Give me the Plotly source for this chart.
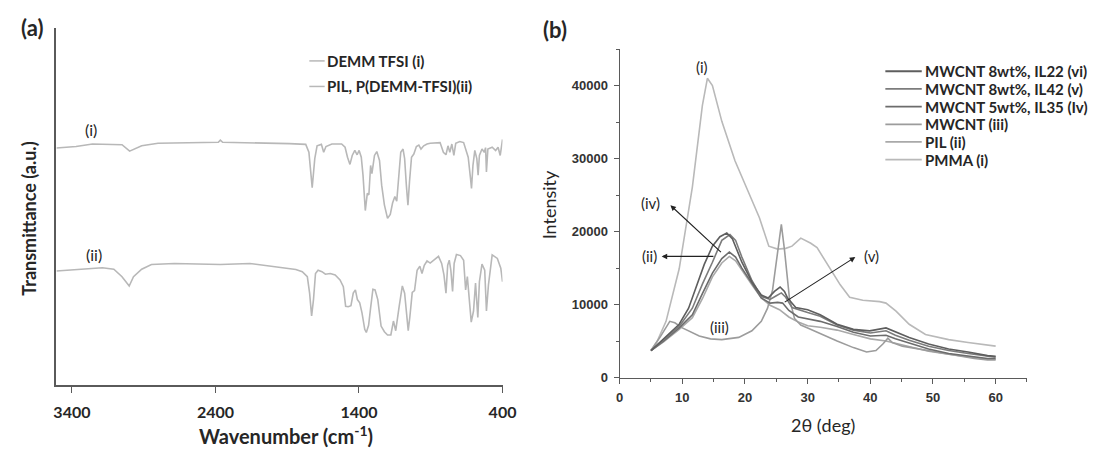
import plotly.graph_objects as go

# ---------------- Panel (a): FTIR ----------------
wn_demm = [3508, 3371, 3257, 3051, 2998, 2914, 2800, 2380, 2366, 2350, 1886, 1817, 1771, 1749,
           1726, 1708, 1692, 1662, 1646, 1630, 1589, 1521, 1497, 1480, 1463, 1447, 1429, 1413,
           1399, 1384, 1372, 1356, 1342, 1331, 1319, 1310, 1301, 1292, 1276, 1257, 1242, 1223,
           1201, 1182, 1166, 1150, 1137, 1125, 1109, 1093, 1082, 1070, 1059, 1048, 1034, 1018,
           1000, 983, 968, 949, 926, 904, 870, 835, 812, 794, 780, 767, 753, 739, 726, 698, 671,
           652, 639, 623, 616, 606, 593, 579, 570, 561, 543, 527, 518, 512, 502, 472, 448, 431,
           416, 400]
t_demm = [66.4, 66.8, 67.5, 67.3, 65.5, 67.0, 67.7, 68.0, 68.6, 68.0, 67.6, 67.6, 67.4, 65.2,
          55.3, 63.4, 67.0, 67.4, 65.2, 66.8, 67.5, 67.5, 66.6, 63.8, 61.8, 64.3, 65.7, 64.5,
          65.7, 63.8, 58.8, 48.9, 53.7, 53.3, 61.5, 59.2, 62.0, 64.3, 65.4, 62.9, 56.0, 50.5,
          46.7, 47.8, 51.0, 52.8, 51.5, 57.9, 65.2, 66.1, 63.4, 56.0, 50.4, 57.0, 63.8, 64.7,
          66.8, 67.2, 66.1, 67.0, 67.5, 67.7, 67.9, 67.9, 65.2, 64.5, 67.0, 65.2, 67.5, 64.3,
          67.7, 68.2, 67.9, 65.2, 63.8, 57.9, 55.1, 61.5, 65.7, 63.4, 58.8, 64.3, 66.1, 65.2,
          66.5, 59.7, 66.1, 66.6, 65.7, 66.6, 64.3, 68.8]

wn_pil = [3508, 3371, 3188, 3108, 3051, 3001, 2971, 2914, 2846, 2686, 2366, 2160, 1886, 1840,
          1795, 1760, 1744, 1730, 1717, 1703, 1685, 1658, 1634, 1600, 1566, 1532, 1509, 1493,
          1475, 1456, 1440, 1425, 1411, 1395, 1379, 1360, 1349, 1333, 1319, 1303, 1288, 1269,
          1246, 1223, 1201, 1178, 1160, 1144, 1120, 1098, 1082, 1068, 1057, 1045, 1029, 1013,
          995, 976, 961, 945, 926, 904, 881, 846, 824, 808, 794, 782, 771, 760, 748, 737, 721,
          693, 671, 657, 645, 634, 618, 602, 588, 572, 561, 543, 524, 512, 498, 472, 436, 412,
          400]
t_pil = [32.0, 32.4, 32.9, 32.5, 30.4, 27.8, 30.4, 32.5, 33.8, 34.1, 33.8, 34.1, 32.7, 32.4,
         31.8, 30.4, 25.8, 19.4, 24.0, 31.3, 32.2, 31.8, 31.1, 31.3, 30.9, 29.5, 27.6, 22.1,
         22.0, 22.3, 25.8, 26.7, 24.0, 23.1, 20.3, 15.7, 14.8, 16.8, 21.7, 26.9, 26.7, 24.0,
         16.6, 15.0, 14.1, 14.1, 18.0, 15.3, 22.1, 27.8, 25.8, 19.4, 15.3, 19.4, 26.0, 26.5,
         32.2, 33.3, 31.3, 33.6, 34.8, 34.2, 35.0, 36.1, 34.1, 30.9, 25.8, 33.6, 35.0, 32.2,
         26.3, 34.1, 36.6, 36.3, 35.0, 26.7, 30.4, 24.0, 17.7, 20.8, 28.6, 19.0, 29.0, 33.9,
         32.2, 20.8, 28.1, 36.5, 35.5, 32.8, 29.0]

ftir_ticks = [3400, 2400, 1400, 400]
ftir_names = ["DEMM TFSI (i)", "PIL, P(DEMM-TFSI)(ii)"]

# ---------------- Panel (b): XRD ----------------
tt_vi = [5.0, 7.0, 9.5, 11.0, 12.5, 13.5, 14.8, 16.0, 17.1, 18.0, 19.5, 21.1, 22.6, 23.7, 24.7,
         25.6, 26.3, 26.8, 28.1, 30.0, 32.0, 34.7, 37.3, 39.9, 42.5, 44.1, 46.2, 49.3, 52.5,
         55.6, 58.7, 60.0]
i_vi = [3700, 5300, 7300, 9500, 13000, 15500, 18000, 19300, 19800, 19000, 15800, 13100, 11300,
        10900, 11800, 12400, 11800, 10900, 9600, 9300, 8600, 7300, 6600, 6400, 6800, 6200, 5500,
        4600, 3900, 3500, 3000, 2900]

tt_v = [5.0, 7.0, 9.5, 11.6, 13.2, 14.8, 16.3, 17.6, 18.5, 19.5, 21.1, 22.6, 24.0, 25.0, 25.8,
        26.5, 27.5, 30.0, 32.0, 34.7, 37.3, 40.0, 42.5, 44.0, 46.2, 49.3, 52.5, 55.6, 58.7, 60.0]
i_v = [3700, 5200, 7000, 9500, 12800, 15800, 18800, 19600, 18800, 16500, 13300, 11100, 10700,
       11200, 11600, 11000, 9600, 8900, 8400, 7200, 6500, 6100, 6400, 5800, 5100, 4300, 3700,
       3300, 2900, 2800]

tt_iv = [5.0, 7.0, 9.5, 11.6, 13.2, 14.8, 16.3, 17.5, 18.5, 19.5, 21.1, 22.6, 24.0, 25.2, 26.0,
         27.0, 28.5, 30.0, 32.0, 34.7, 37.3, 40.0, 42.5, 44.0, 46.2, 49.3, 52.5, 55.6, 58.7, 60.0]
i_iv = [3700, 5000, 6800, 8600, 11500, 14300, 16300, 17200, 16500, 15000, 12900, 10900, 10200,
        10300, 10200, 9200, 8300, 8000, 7700, 7000, 6200, 5700, 5800, 5300, 4700, 3900, 3300,
        2900, 2600, 2600]

tt_iii = [5.0, 6.5, 8.0, 8.8, 10.0, 12.7, 14.5, 16.3, 19.0, 21.1, 22.6, 23.6, 24.4, 25.2, 25.8,
          26.3, 27.1, 27.9, 28.9, 30.0, 32.0, 34.7, 37.3, 39.4, 40.9, 42.0, 42.8, 43.5, 45.1,
          47.7, 50.4, 53.5, 56.6, 58.7, 60.0]
i_iii = [3700, 5600, 7700, 7500, 6800, 5700, 5300, 5200, 5500, 6400, 7700, 9500, 12000, 17500,
         21000, 17500, 10800, 8100, 7200, 6800, 6000, 5000, 4100, 3500, 3700, 4600, 5400, 4800,
         4300, 3900, 3500, 3000, 2600, 2400, 2400]

tt_ii = [5.0, 7.0, 9.5, 11.6, 13.2, 14.8, 16.3, 17.5, 18.5, 19.5, 21.1, 22.6, 24.0, 25.5, 27.0,
         28.5, 30.0, 32.0, 34.7, 37.3, 40.0, 42.5, 44.0, 46.2, 49.3, 52.5, 55.6, 58.7, 60.0]
i_ii = [3700, 4900, 6600, 8200, 10800, 13800, 15700, 16600, 16000, 14700, 12700, 10900, 9900,
        9300, 8300, 7600, 7100, 6900, 6500, 5900, 5300, 5000, 4700, 4200, 3600, 3200, 2800, 2500,
        2500]

tt_i = [5.0, 6.0, 7.4, 9.5, 11.6, 13.2, 14.0, 14.8, 16.3, 18.4, 20.3, 22.3, 23.8, 25.2, 26.5,
        27.5, 28.9, 30.5, 31.5, 33.2, 35.2, 36.7, 38.8, 41.5, 42.5, 44.1, 46.2, 48.8, 52.5, 55.6,
        58.7, 60.0]
i_i = [3700, 5000, 7700, 14900, 26100, 37300, 41000, 40000, 35100, 29700, 25900, 21900, 18000,
       17600, 17700, 18000, 19100, 18400, 17800, 15500, 12700, 11000, 10600, 10400, 10200, 9100,
       7300, 5900, 5200, 4800, 4400, 4300]

xrd_names = ["MWCNT 8wt%, IL22 (vi)", "MWCNT 8wt%, IL42 (v)", "MWCNT 5wt%, IL35 (Iv)",
             "MWCNT (iii)", "PIL (ii)", "PMMA (i)"]
xrd_x = [tt_vi, tt_v, tt_iv, tt_iii, tt_ii, tt_i]
xrd_y = [i_vi, i_v, i_iv, i_iii, i_ii, i_i]
xrd_colors = ["#5e5e5e", "#7c7c7c", "#6c6c6c", "#9c9c9c", "#a9a9a9", "#b9b9b9"]

xrd_xticks = [0, 10, 20, 30, 40, 50, 60]
xrd_yticks = [0, 10000, 20000, 30000, 40000]

# ---------------- Figure ----------------
W, H = 1101, 455
def px(x):
    return x / W
def py(y):
    return 1 - y / H

FONT = "Lato, 'Open Sans', sans-serif"
TXT = "#262626"
AX = "#5a5a5a"
ftir_color = "#b8b8b8"

fig = go.Figure()
for wn, tv, nm in [(wn_demm, t_demm, ftir_names[0]), (wn_pil, t_pil, ftir_names[1])]:
    fig.add_trace(go.Scatter(x=wn, y=tv, mode="lines", name=nm,
                             line=dict(color=ftir_color, width=1.6), xaxis="x", yaxis="y",
                             showlegend=False))

for k in [5, 4, 3, 2, 1, 0]:
    fig.add_trace(go.Scatter(x=xrd_x[k], y=xrd_y[k], mode="lines", name=xrd_names[k],
                             line=dict(color=xrd_colors[k], width=1.6),
                             xaxis="x2", yaxis="y2", showlegend=False))

TICKFONT_B = dict(family="Liberation Sans, Arial, sans-serif", size=13, color="#333333",
                  weight="bold")

fig.update_layout(
    width=W, height=H,
    margin=dict(l=0, r=0, t=0, b=0),
    paper_bgcolor="white", plot_bgcolor="white",
    font=dict(family=FONT, color=TXT),
    showlegend=False,
    xaxis=dict(domain=[px(53.3), px(506.8)], range=[3508, 400], anchor="y",
               showline=True, linecolor=AX, linewidth=1.6,
               ticks="outside", ticklen=6, tickwidth=1.2, tickcolor=AX,
               tickvals=ftir_ticks, ticktext=[str(v) for v in ftir_ticks],
               tickfont=dict(family=FONT, size=16, color=TXT, weight="bold"),
               ticklabelstandoff=6, showgrid=False, zeroline=False),
    yaxis=dict(domain=[py(392.3), py(28.3)], range=[0, 100], anchor="x",
               showline=True, linecolor=AX, linewidth=1.6, ticks="",
               showticklabels=False, showgrid=False, zeroline=False),
    xaxis2=dict(domain=[px(625.9), px(1040)], range=[0, 65], anchor="y2",
                showline=True, linecolor=AX, linewidth=1.2,
                ticks="outside", ticklen=5, tickwidth=1, tickcolor=AX,
                tickvals=xrd_xticks,
                minor=dict(dtick=5, ticks="outside", ticklen=3, tickcolor=AX, showgrid=False),
                tickfont=TICKFONT_B, ticklabelstandoff=3, showgrid=False, zeroline=False),
    yaxis2=dict(domain=[py(384.3), py(50)], range=[0, 45000], anchor="x2",
                showline=True, linecolor=AX, linewidth=1.2,
                ticks="outside", ticklen=5, tickwidth=1, tickcolor=AX,
                tickvals=xrd_yticks, tickformat="d",
                minor=dict(dtick=5000, ticks="outside", ticklen=3, tickcolor=AX, showgrid=False),
                tickfont=TICKFONT_B, ticklabelstandoff=3, showgrid=False, zeroline=False),
)

ann = []
shapes = []

def note(text, x, y, size, bold=False, angle=0, xanchor="center", xref="paper", yref="paper"):
    f = dict(size=size, family=FONT, color=TXT)
    if bold:
        f["weight"] = "bold"
    ann.append(dict(text=text, x=x, y=y, xref=xref, yref=yref, showarrow=False,
                    xanchor=xanchor, yanchor="middle", textangle=angle, font=f))

# panel letters
note("(a)", px(28), py(28), 22, bold=True)
note("(b)", px(560), py(30), 22, bold=True)
# axis titles
note("Transmittance (a.u.)", px(25), py(223), 18, bold=True, angle=-90)
note("Wavenumber (cm<sup>-1</sup>)", px(286.5), py(443), 20, bold=True)
note("Intensity", px(554), py(208), 18, angle=-90)
note("2θ (deg)", px(832.6), py(433), 18)

# panel (a) curve labels
note("(i)", 3264, 71.5, 16, xref="x", yref="y")
note("(ii)", 3243, 36.6, 16, xref="x", yref="y")

# panel (a) legend
for j, nm in enumerate(ftir_names):
    yy = 62 + 26 * j
    shapes.append(dict(type="line", xref="paper", yref="paper", x0=px(310.4), x1=px(326),
                       y0=py(yy), y1=py(yy), line=dict(color=ftir_color, width=1.5)))
    note(nm, px(326.5), py(yy), 15, bold=True, xanchor="left")

# panel (b) legend
for j, nm in enumerate(xrd_names):
    yy = 72.5 + 18.0 * j
    shapes.append(dict(type="line", xref="paper", yref="paper", x0=px(896), x1=px(933),
                       y0=py(yy), y1=py(yy), line=dict(color=xrd_colors[j], width=1.8)))
    note(nm, px(934), py(yy), 15, bold=True, xanchor="left")

# panel (b) curve labels
for t, x, y in [("(i)", 13.2, 42600), ("(iv)", 5.0, 23900), ("(ii)", 4.7, 16600),
                ("(iii)", 16.0, 6900), ("(v)", 40.2, 16600)]:
    note(t, x, y, 15, xref="x2", yref="y2")

# arrows (head at x,y; tail at ax,ay)
for hx, hy, tx, ty in [(8.1, 23600, 16.4, 17000), (6.7, 16600, 15.2, 16600),
                       (37.6, 16500, 26.1, 10200)]:
    ann.append(dict(text="", x=hx, y=hy, ax=tx, ay=ty, xref="x2", yref="y2",
                    axref="x2", ayref="y2", showarrow=True, arrowhead=2, arrowsize=1,
                    arrowwidth=1.1, arrowcolor="#222222"))

fig.update_layout(annotations=ann, shapes=shapes)
fig.write_html("out.html", config={"displayModeBar": False},
               post_script="document.body.style.margin='0px';document.body.style.overflow='hidden';")
